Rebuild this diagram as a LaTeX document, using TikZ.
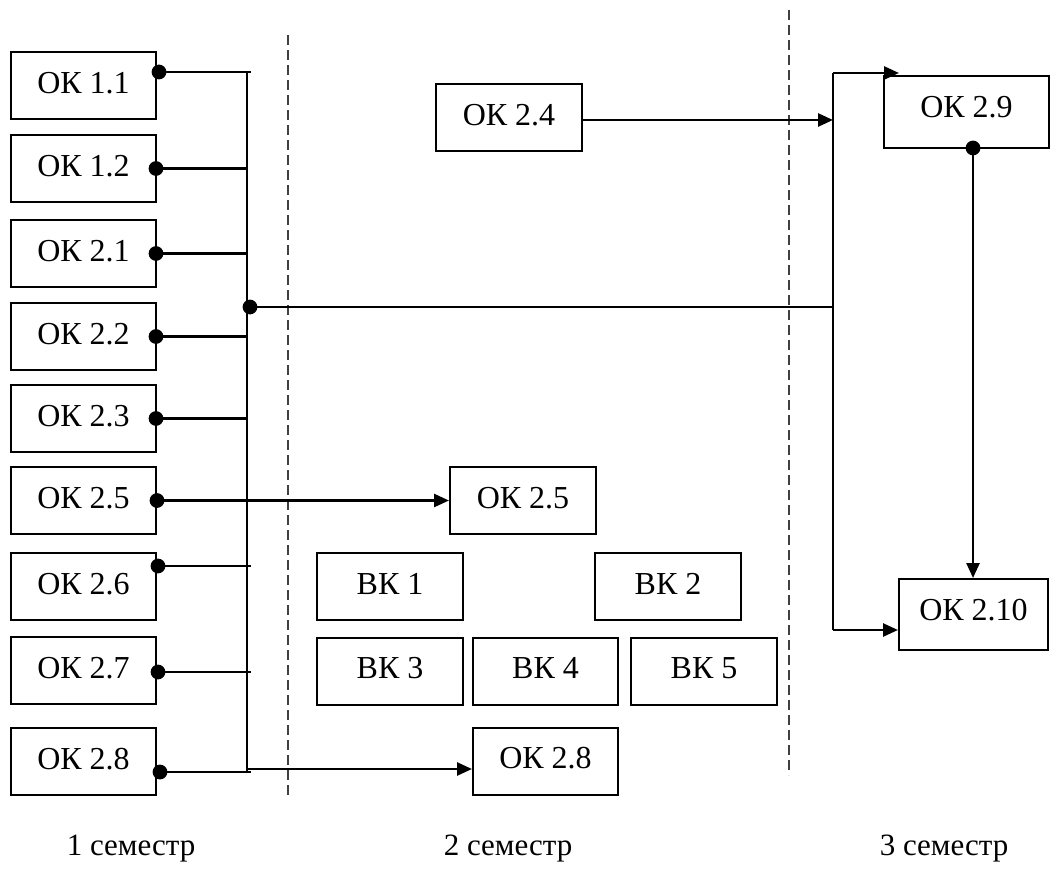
\documentclass[tikz,border=0pt]{standalone}
\usepackage{fontspec}
\setmainfont{Liberation Serif}
\usetikzlibrary{arrows.meta}

\begin{document}
\begin{tikzpicture}[
      x=0.5pt, y=-0.5pt,
      box/.style={draw, line width=1pt, inner sep=0pt, minimum width=72.5pt,
        minimum height=33.5pt, text depth=3pt, font=\fontsize{16}{19}\selectfont},
      link/.style={line width=1.3pt},
      arr/.style={link, -{Triangle[length=7.5pt, width=6.5pt]}},
      sep/.style={line width=0.7pt, black!75, dash pattern=on 5pt off 2.5pt},
      sem/.style={font=\fontsize{15.5}{19}\selectfont}
    ]
    \useasboundingbox (0,0) rectangle (1063,871);
    % 1 семестр
    \node[box] (ok11) at (83.5,85.5) {ОК 1.1};
    \node[box] (ok12) at (83.5,168.5) {ОК 1.2};
    \node[box] (ok21) at (83.5,253.5) {ОК 2.1};
    \node[box] (ok22) at (83.5,336.5) {ОК 2.2};
    \node[box] (ok23) at (83.5,418.5) {ОК 2.3};
    \node[box] (ok25) at (83.5,500.5) {ОК 2.5};
    \node[box] (ok26) at (83.5,586.5) {ОК 2.6};
    \node[box] (ok27) at (83.5,670.5) {ОК 2.7};
    \node[box] (ok28) at (83.5,761.5) {ОК 2.8};
    % 2 семестр
    \node[box, minimum width=73pt] (ok24) at (509,118) {ОК 2.4};
    \node[box, minimum width=73pt] (ok25b) at (523,500.5) {ОК 2.5};
    \node[box, minimum width=73pt] (bk1) at (390,586.5) {ВК 1};
    \node[box, minimum width=73pt] (bk2) at (668,586.5) {ВК 2};
    \node[box, minimum width=73pt] (bk3) at (390,671) {ВК 3};
    \node[box, minimum width=72.5pt] (bk4) at (545.5,671) {ВК 4};
    \node[box, minimum width=73pt] (bk5) at (704,671) {ВК 5};
    \node[box, minimum width=72.5pt] (ok28b) at (545.5,761) {ОК 2.8};
    % 3 семестр
    \node[box, minimum width=82.5pt, minimum height=36pt, text depth=5pt] (ok29) at (966.5,112) {ОК 2.9};
    \node[box, minimum width=74.5pt, minimum height=35.5pt, text depth=5pt] (ok210) at (973.5,614.5) {ОК 2.10};

    \node[sem] (sem1) at (131,849) {1 семестр};
    \node[sem] (sem2) at (508,849) {2 семестр};
    \node[sem] (sem3) at (944,849) {3 семестр};

    % границы семестров
    \coordinate (s1t) at (288,35);
    \coordinate (s1b) at (288,795);
    \coordinate (s2t) at (789,10);
    \coordinate (s2b) at (789,775);
    \draw[sep] (s1t) -- (s1b);
    \draw[sep] (s2t) -- (s2b);

    % точки выхода
    \coordinate (d11) at (159,72);
    \coordinate (d12) at (156,168.5);
    \coordinate (d21) at (156,253.5);
    \coordinate (d22) at (156,336.5);
    \coordinate (d23) at (156,418.5);
    \coordinate (d25) at (157,500.5);
    \coordinate (d26) at (158,566);
    \coordinate (d27) at (158,672);
    \coordinate (d28) at (160,772);
    \coordinate (d29) at (973,148);

    % шина
    \coordinate (bt) at (247,72);
    \coordinate (bb) at (247,772);
    \coordinate (tick) at (251,0);
    \coordinate (bj) at (250,307);
    \coordinate (b8) at (247,769);
    \coordinate (rt) at (833,73);
    \coordinate (rj) at (833,307);
    \coordinate (rb) at (833,630);

    \draw[link] (bt) -- (bb);
    \draw[link] (d11) -- (d11 -| tick);
    \draw[link] (d12) -- (d12 -| bt);
    \draw[link] (d21) -- (d21 -| bt);
    \draw[link] (d22) -- (d22 -| bt);
    \draw[link] (d23) -- (d23 -| bt);
    \draw[link] (d26) -- (d26 -| tick);
    \draw[link] (d27) -- (d27 -| tick);
    \draw[link] (d28) -- (d28 -| tick);
    \draw[arr] (d25) -- (ok25b.west);
    \draw[arr] (b8) -- (b8 -| ok28b.west);

    \draw[link] (bj) -- (rj);
    \draw[link] (rt) -- (rb);
    \draw[arr] (ok24.east |- 0,120) -- (rt |- 0,120);
    \draw[arr] (rt) -- ([xshift=8pt]rt -| ok29.west);
    \draw[arr] (rb) -- (rb -| ok210.west);
    \draw[arr] (d29) -- (d29 |- ok210.north);

    \foreach \d in {d11,d12,d21,d22,d23,d25,d26,d27,d28,d29,bj}
      \fill (\d) circle[radius=3.7pt];
\end{tikzpicture}
\end{document}
